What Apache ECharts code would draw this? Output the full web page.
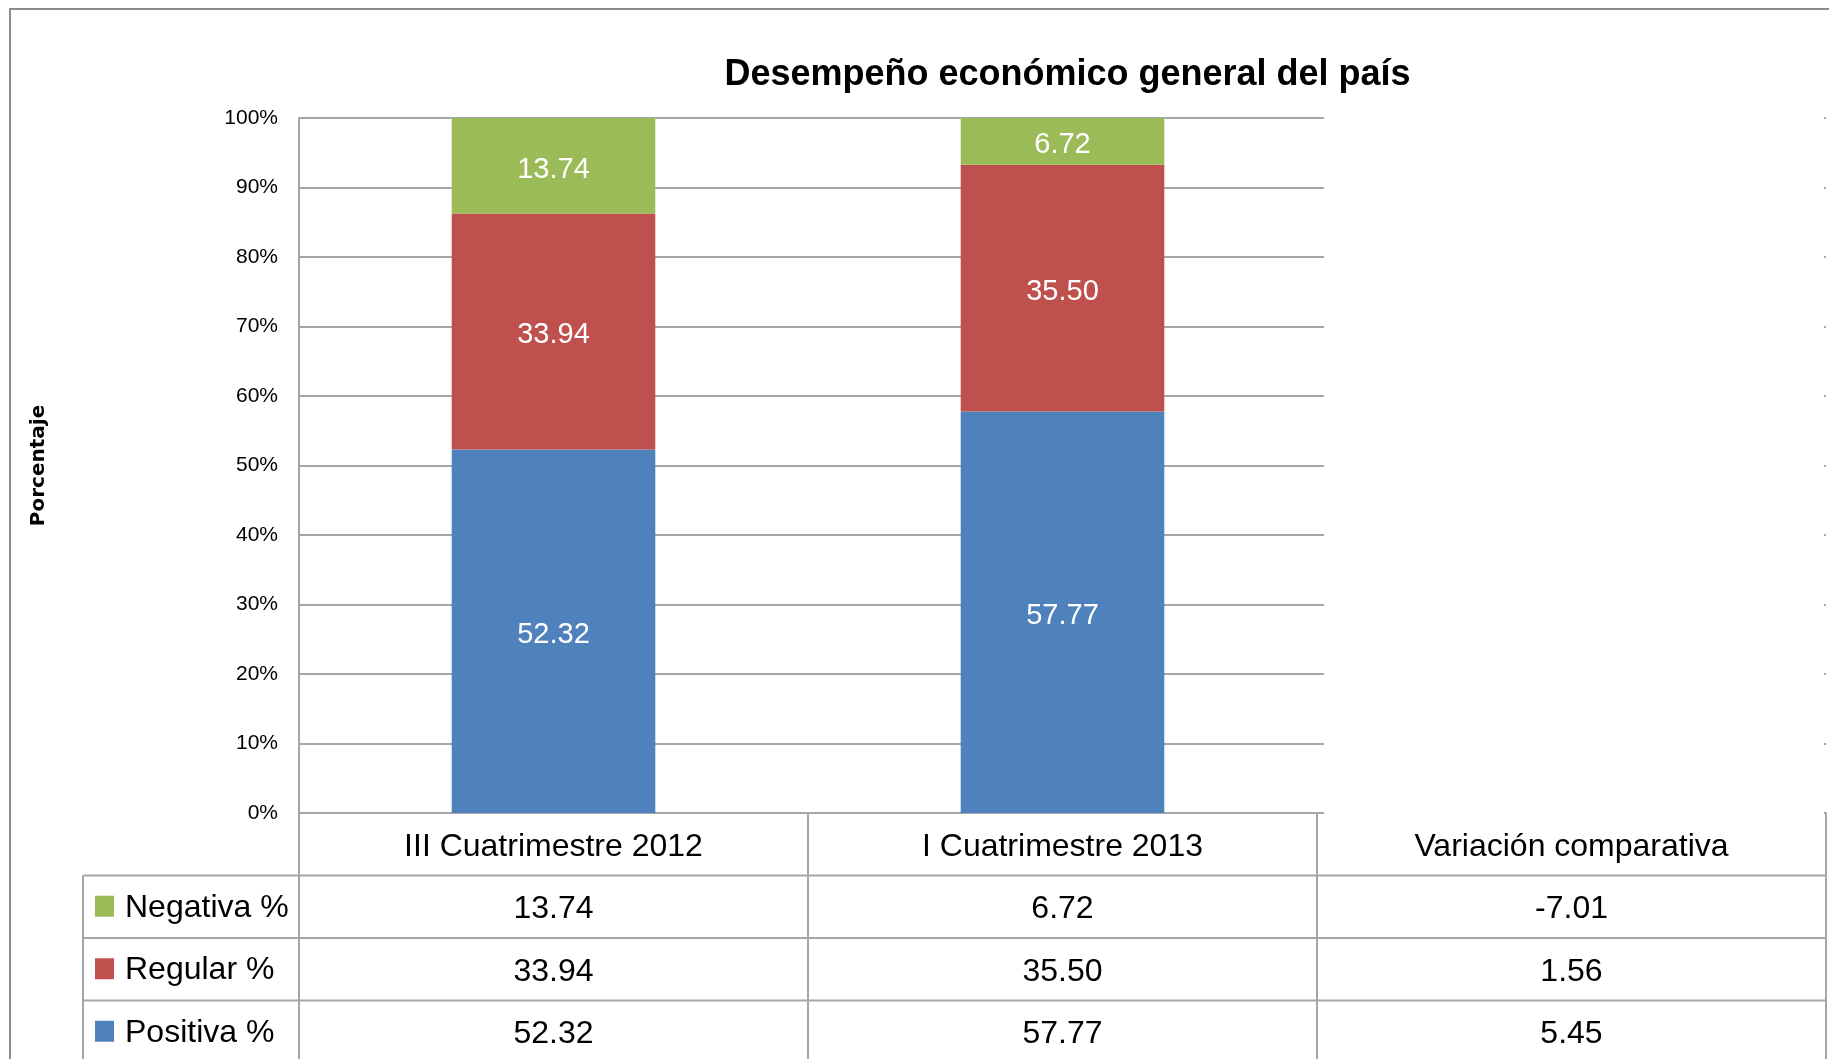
<!DOCTYPE html>
<html>
<head>
<meta charset="utf-8">
<script src="https://cdn.jsdelivr.net/npm/echarts@6/dist/echarts.min.js"></script>
<style>
  html, body { margin: 0; padding: 0; background: #ffffff; }
  #chart { width: 1829px; height: 1059px; }
</style>
</head>
<body>
<div id="chart"></div>
<script>
// Periods shown as columns and in the data table
const categories = ['III Cuatrimestre 2012', 'I Cuatrimestre 2013', 'Variación comparativa'];
// Series values per column (last column is the comparative change, shown only in the table)
const negativa = [13.74, 6.72, -7.01];
const regular = [33.94, 35.50, 1.56];
const positiva = [52.32, 57.77, 5.45];
const seriesNames = ['Negativa %', 'Regular %', 'Positiva %'];
const seriesColors = ['#9BBB59', '#C0504D', '#4F81BD'];
// Y axis tick range (percent)
const yTicks = { min: 0, max: 100, step: 10 };
// Number of columns plotted as stacked bars (periods only)
const plottedColumns = 2;

const FONT = '"Liberation Sans", Arial, sans-serif';
const GRID = { left: 299, right: 1826, top: 118, bottom: 813 };
const ROW_H = 62.5;
const LINE_COLOR = '#a6a6a6';

const chart = echarts.init(document.getElementById('chart'), null, { renderer: 'canvas' });

const fmt = v => Number(v).toFixed(2);
const barData = arr => arr.map((v, i) => (i < plottedColumns ? v : '-'));
const tableRows = [negativa, regular, positiva];

function barSeries(name, values, color) {
  return {
    name: name,
    type: 'bar',
    stack: 'total',
    barCategoryGap: '60%',
    data: barData(values),
    itemStyle: { color: color },
    label: {
      show: true,
      position: 'inside',
      offset: [0, 4],
      color: '#ffffff',
      fontFamily: FONT,
      fontSize: 29,
      formatter: p => fmt(p.value)
    },
    emphasis: { disabled: true }
  };
}

// One extra category axis per table row, so row values line up under each column
const rowAxes = tableRows.map((row, k) => ({
  type: 'category',
  data: categories,
  position: 'bottom',
  offset: ROW_H * (k + 1),
  axisLine: { show: false },
  axisTick: { show: false },
  axisLabel: {
    margin: 18,
    color: '#000000',
    fontFamily: FONT,
    fontSize: 32,
    formatter: (v, i) => fmt(row[i])
  }
}));

const tableTop = GRID.bottom;
const graphics = [
  // outer frame of the chart area
  { type: 'rect', z: 100, shape: { x: 10, y: 9, width: 1860, height: 1100 },
    style: { fill: 'none', stroke: '#8c8c8c', lineWidth: 2 } },
  // the comparative column has no bars; keep its plot area blank
  { type: 'rect', z: 50, shape: { x: 1324, y: GRID.top - 10, width: GRID.right - 2 - 1324, height: GRID.bottom - GRID.top + 12 },
    style: { fill: '#ffffff' } },
  // left border of the legend column
  { type: 'line', z: 60, shape: { x1: 83, y1: tableTop + ROW_H, x2: 83, y2: 1100 },
    style: { stroke: LINE_COLOR, lineWidth: 2 } }
];
for (let k = 1; k <= 3; k++) {
  const y = tableTop + ROW_H * k;
  graphics.push({ type: 'line', z: 60, shape: { x1: 83, y1: y, x2: GRID.right + 1, y2: y },
    style: { stroke: LINE_COLOR, lineWidth: 2 } });
}
// legend keys in the first column of the data table
seriesNames.forEach((name, k) => {
  const cy = tableTop + ROW_H * (k + 1) + ROW_H / 2;
  graphics.push({ type: 'rect', z: 60, shape: { x: 95, y: cy - 11, width: 19, height: 21 },
    style: { fill: seriesColors[k] } });
  graphics.push({ type: 'text', z: 60, x: 125, y: cy + 1,
    style: { text: name, fontFamily: FONT, fontSize: 32, fill: '#000000', verticalAlign: 'middle', align: 'left' } });
});

const option = {
  animation: false,
  backgroundColor: '#ffffff',
  title: {
    text: 'Desempeño económico general del país',
    left: (GRID.left + GRID.right) / 2,
    textAlign: 'center',
    top: 52,
    textStyle: { fontFamily: FONT, fontWeight: 'bold', fontSize: 36, color: '#000000' }
  },
  grid: {
    left: GRID.left,
    right: 1829 - GRID.right,
    top: GRID.top,
    bottom: 1059 - GRID.bottom,
    containLabel: false
  },
  xAxis: [{
    type: 'category',
    data: categories,
    position: 'bottom',
    axisLine: { show: true, lineStyle: { color: LINE_COLOR, width: 2 } },
    axisTick: { show: true, alignWithLabel: false, length: 300, lineStyle: { color: LINE_COLOR, width: 2 } },
    axisLabel: { margin: 18, color: '#000000', fontFamily: FONT, fontSize: 32 }
  }].concat(rowAxes),
  yAxis: {
    type: 'value',
    min: yTicks.min,
    max: yTicks.max,
    interval: yTicks.step,
    name: 'Porcentaje',
    nameLocation: 'middle',
    nameRotate: 90,
    nameGap: 250,
    nameTextStyle: { fontFamily: '"DejaVu Sans", sans-serif', fontWeight: 'bold', fontSize: 20, color: '#000000' },
    axisLine: { show: true, lineStyle: { color: LINE_COLOR, width: 2 } },
    axisTick: { show: false },
    splitLine: { show: true, lineStyle: { color: LINE_COLOR, width: 2 } },
    axisLabel: { margin: 21, color: '#000000', fontFamily: FONT, fontSize: 21, formatter: '{value}%' }
  },
  series: [
    barSeries(seriesNames[2], positiva, seriesColors[2]),
    barSeries(seriesNames[1], regular, seriesColors[1]),
    barSeries(seriesNames[0], negativa, seriesColors[0])
  ],
  graphic: graphics
};

chart.setOption(option);
</script>
</body>
</html>
